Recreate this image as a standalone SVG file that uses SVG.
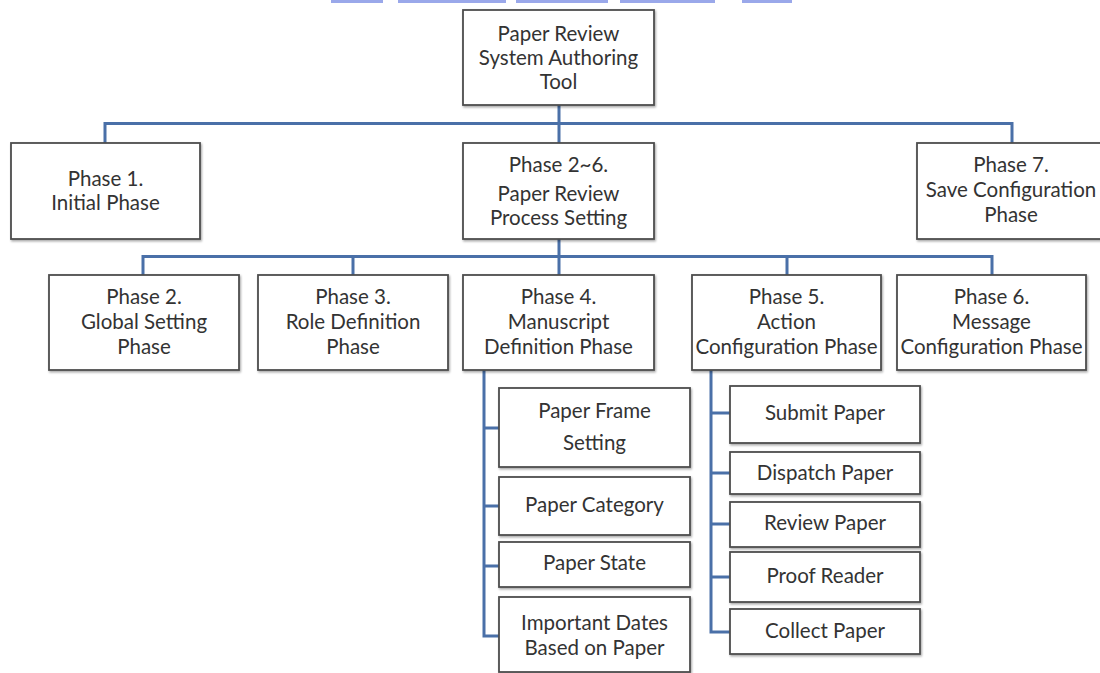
<svg xmlns="http://www.w3.org/2000/svg" width="1100" height="673" viewBox="0 0 1100 673">
  <defs>
    <filter id="shadow" x="-5%" y="-5%" width="115%" height="120%">
      <feDropShadow dx="1" dy="1.5" stdDeviation="1" flood-color="#000" flood-opacity="0.35"/>
    </filter>
  </defs>
  <style>
    .box { fill: #ffffff; stroke: #4d4d4d; stroke-width: 1.8; filter: url(#shadow); }
    .lbl { font-family: Lato, "Open Sans", "Liberation Sans", sans-serif; font-size: 20.5px; fill: #333333; text-anchor: middle; }
    .wire { fill: none; stroke: #4a70a8; stroke-width: 3; stroke-linejoin: miter; }
    .mark { fill: #9aa8ea; }
  </style>

  <rect width="1100" height="673" fill="#ffffff"/>

  <!-- banner remnants along the top edge -->
  <g id="banner">
    <rect class="mark" x="331" y="0" width="52" height="3"/>
    <rect class="mark" x="398" y="0" width="108" height="3"/>
    <rect class="mark" x="516" y="0" width="92" height="3"/>
    <rect class="mark" x="620" y="0" width="95" height="3"/>
    <rect class="mark" x="742" y="0" width="50" height="3"/>
  </g>

  <!-- connectors -->
  <g id="connectors">
    <!-- root to level 1 -->
    <path class="wire" d="M559,105 V143 M105,143 V123.5 H1012 V143"/>
    <!-- process setting to level 2 -->
    <path class="wire" d="M559,239 V275 M143,275 V256.5 H992 V275 M353,256.5 V275 M787,256.5 V275"/>
    <!-- phase 4 children -->
    <path class="wire" d="M484,370 V636 H499 M484,428 H499 M484,506 H499 M484,566 H499"/>
    <!-- phase 5 children -->
    <path class="wire" d="M711,370 V632 H730 M711,413 H730 M711,473 H730 M711,524 H730 M711,577 H730"/>
  </g>

  <g id="root">
    <rect class="box" x="463" y="10" width="191" height="95"/>
    <text class="lbl" x="558.5" y="41">Paper Review</text>
    <text class="lbl" x="558.5" y="65">System Authoring</text>
    <text class="lbl" x="558.5" y="89">Tool</text>
  </g>

  <g id="phase1">
    <rect class="box" x="11" y="143" width="189" height="96"/>
    <text class="lbl" x="105.5" y="186">Phase 1.</text>
    <text class="lbl" x="105.5" y="210">Initial Phase</text>
  </g>

  <g id="phase2to6">
    <rect class="box" x="463" y="143" width="191" height="96"/>
    <text class="lbl" x="558.5" y="172">Phase 2~6.</text>
    <text class="lbl" x="558.5" y="201">Paper Review</text>
    <text class="lbl" x="558.5" y="225">Process Setting</text>
  </g>

  <g id="phase7">
    <rect class="box" x="917" y="143" width="188" height="96"/>
    <text class="lbl" x="1011" y="172">Phase 7.</text>
    <text class="lbl" x="1011" y="197">Save Configuration</text>
    <text class="lbl" x="1011" y="222">Phase</text>
  </g>

  <g id="phase2">
    <rect class="box" x="49" y="275" width="190" height="95"/>
    <text class="lbl" x="144" y="304">Phase 2.</text>
    <text class="lbl" x="144" y="329">Global Setting</text>
    <text class="lbl" x="144" y="354">Phase</text>
  </g>

  <g id="phase3">
    <rect class="box" x="258" y="275" width="190" height="95"/>
    <text class="lbl" x="353" y="304">Phase 3.</text>
    <text class="lbl" x="353" y="329">Role Definition</text>
    <text class="lbl" x="353" y="354">Phase</text>
  </g>

  <g id="phase4">
    <rect class="box" x="463" y="275" width="191" height="95"/>
    <text class="lbl" x="558.5" y="304">Phase 4.</text>
    <text class="lbl" x="558.5" y="329">Manuscript</text>
    <text class="lbl" x="558.5" y="354">Definition Phase</text>
  </g>

  <g id="phase5">
    <rect class="box" x="692" y="275" width="189" height="95"/>
    <text class="lbl" x="786.5" y="304">Phase 5.</text>
    <text class="lbl" x="786.5" y="329">Action</text>
    <text class="lbl" x="786.5" y="354">Configuration Phase</text>
  </g>

  <g id="phase6">
    <rect class="box" x="897" y="275" width="189" height="95"/>
    <text class="lbl" x="991.5" y="304">Phase 6.</text>
    <text class="lbl" x="991.5" y="329">Message</text>
    <text class="lbl" x="991.5" y="354">Configuration Phase</text>
  </g>

  <!-- manuscript definition items -->
  <g id="paper-frame">
    <rect class="box" x="499" y="388" width="191" height="79"/>
    <text class="lbl" x="594.5" y="418">Paper Frame</text>
    <text class="lbl" x="594.5" y="450">Setting</text>
  </g>
  <g id="paper-category">
    <rect class="box" x="499" y="477" width="191" height="58"/>
    <text class="lbl" x="594.5" y="512">Paper Category</text>
  </g>
  <g id="paper-state">
    <rect class="box" x="499" y="542" width="191" height="45"/>
    <text class="lbl" x="594.5" y="570">Paper State</text>
  </g>
  <g id="important-dates">
    <rect class="box" x="499" y="597" width="191" height="75"/>
    <text class="lbl" x="594.5" y="630">Important Dates</text>
    <text class="lbl" x="594.5" y="655">Based on Paper</text>
  </g>

  <!-- action configuration items -->
  <g id="submit-paper">
    <rect class="box" x="730" y="386" width="190" height="57"/>
    <text class="lbl" x="825" y="420">Submit Paper</text>
  </g>
  <g id="dispatch-paper">
    <rect class="box" x="730" y="452" width="190" height="42"/>
    <text class="lbl" x="825" y="480">Dispatch Paper</text>
  </g>
  <g id="review-paper">
    <rect class="box" x="730" y="502" width="190" height="45"/>
    <text class="lbl" x="825" y="530">Review Paper</text>
  </g>
  <g id="proof-reader">
    <rect class="box" x="730" y="552" width="190" height="50"/>
    <text class="lbl" x="825" y="583">Proof Reader</text>
  </g>
  <g id="collect-paper">
    <rect class="box" x="730" y="609" width="190" height="45"/>
    <text class="lbl" x="825" y="638">Collect Paper</text>
  </g>
</svg>
